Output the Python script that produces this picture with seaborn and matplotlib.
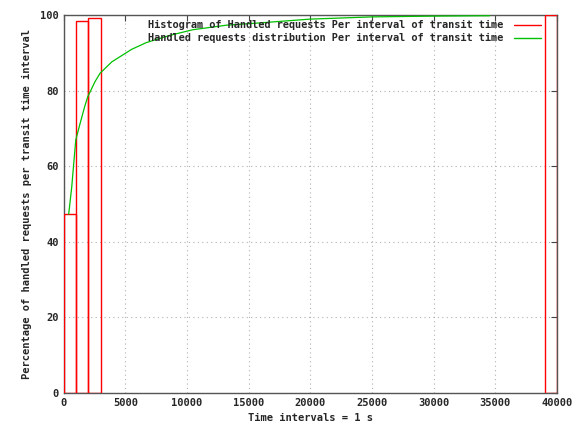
import numpy as np
import pandas as pd
import matplotlib
matplotlib.use('Agg')
import matplotlib.pyplot as plt
import seaborn as sns
from matplotlib.lines import Line2D

# Histogram boxes (left edge of interval, percentage)
bin_starts = [0, 1000, 2000, 39000]
bin_heights = [47.3, 98.5, 99.1, 100.0]
bin_width = 1000

# Cumulative distribution curve
dist_x = [400, 650, 790, 973, 1325, 1700, 1950, 2540, 2950, 3900, 5500, 6700,
          8600, 10470, 13200, 15900, 19950, 25060, 30000, 34550]
dist_y = [47.3, 54.6, 60.0, 66.9, 71.3, 75.8, 78.4, 82.4, 84.6, 87.6, 90.9,
          92.7, 94.6, 96.1, 97.3, 97.9, 98.9, 99.5, 99.7, 99.8]

x_ticks = [0, 5000, 10000, 15000, 20000, 25000, 30000, 35000, 40000]
y_ticks = [0, 20, 40, 60, 80, 100]

sns.set_style('white')
plt.rcParams['font.family'] = ['DejaVu Sans Mono']
plt.rcParams['font.weight'] = 'bold'

fig = plt.figure(figsize=(5.85, 4.28), dpi=100)
ax = fig.add_axes([0.109, 0.082, 0.843, 0.883])

ax.bar(bin_starts, bin_heights, width=bin_width, align='edge',
       fill=False, edgecolor='#ff0000', linewidth=1.0, zorder=3)

df = pd.DataFrame({'x': dist_x, 'y': dist_y})
sns.lineplot(data=df, x='x', y='y', ax=ax, color='#00c000', linewidth=0.9,
             zorder=4)

ax.set_xlim(0, 40000)
ax.set_ylim(0, 100)
ax.set_xticks(x_ticks)
ax.set_yticks(y_ticks)
ax.tick_params(direction='in', length=4, labelsize=7.5, top=True, right=True,
               color='#444444')
for lab in ax.get_xticklabels() + ax.get_yticklabels():
    lab.set_fontweight('bold')
ax.grid(True, linestyle=(0, (1, 3)), color='#b0b0b0', linewidth=0.8)
for s in ax.spines.values():
    s.set_color('#555555')
    s.set_linewidth(1.0)

ax.set_xlabel('Time intervals = 1 s', fontsize=7.5, fontweight='bold', labelpad=4)
ax.set_ylabel('Percentage of handled requests per transit time interval',
              fontsize=7.5, fontweight='bold', labelpad=6)

handles = [Line2D([], [], color='#ff0000', linewidth=1.0),
           Line2D([], [], color='#00c000', linewidth=1.0)]
labels = ['Histogram of Handled requests Per interval of transit time',
          'Handled requests distribution Per interval of transit time']
ax.legend(handles, labels, loc='upper right', bbox_to_anchor=(0.972, 0.993),
          frameon=False, markerfirst=False, handlelength=2.6,
          handletextpad=1.0, labelspacing=0.3, borderaxespad=0.0,
          borderpad=0.25,
          prop={'family': 'DejaVu Sans Mono', 'weight': 'bold', 'size': 7.4})

fig.savefig('out.png', dpi=100)
